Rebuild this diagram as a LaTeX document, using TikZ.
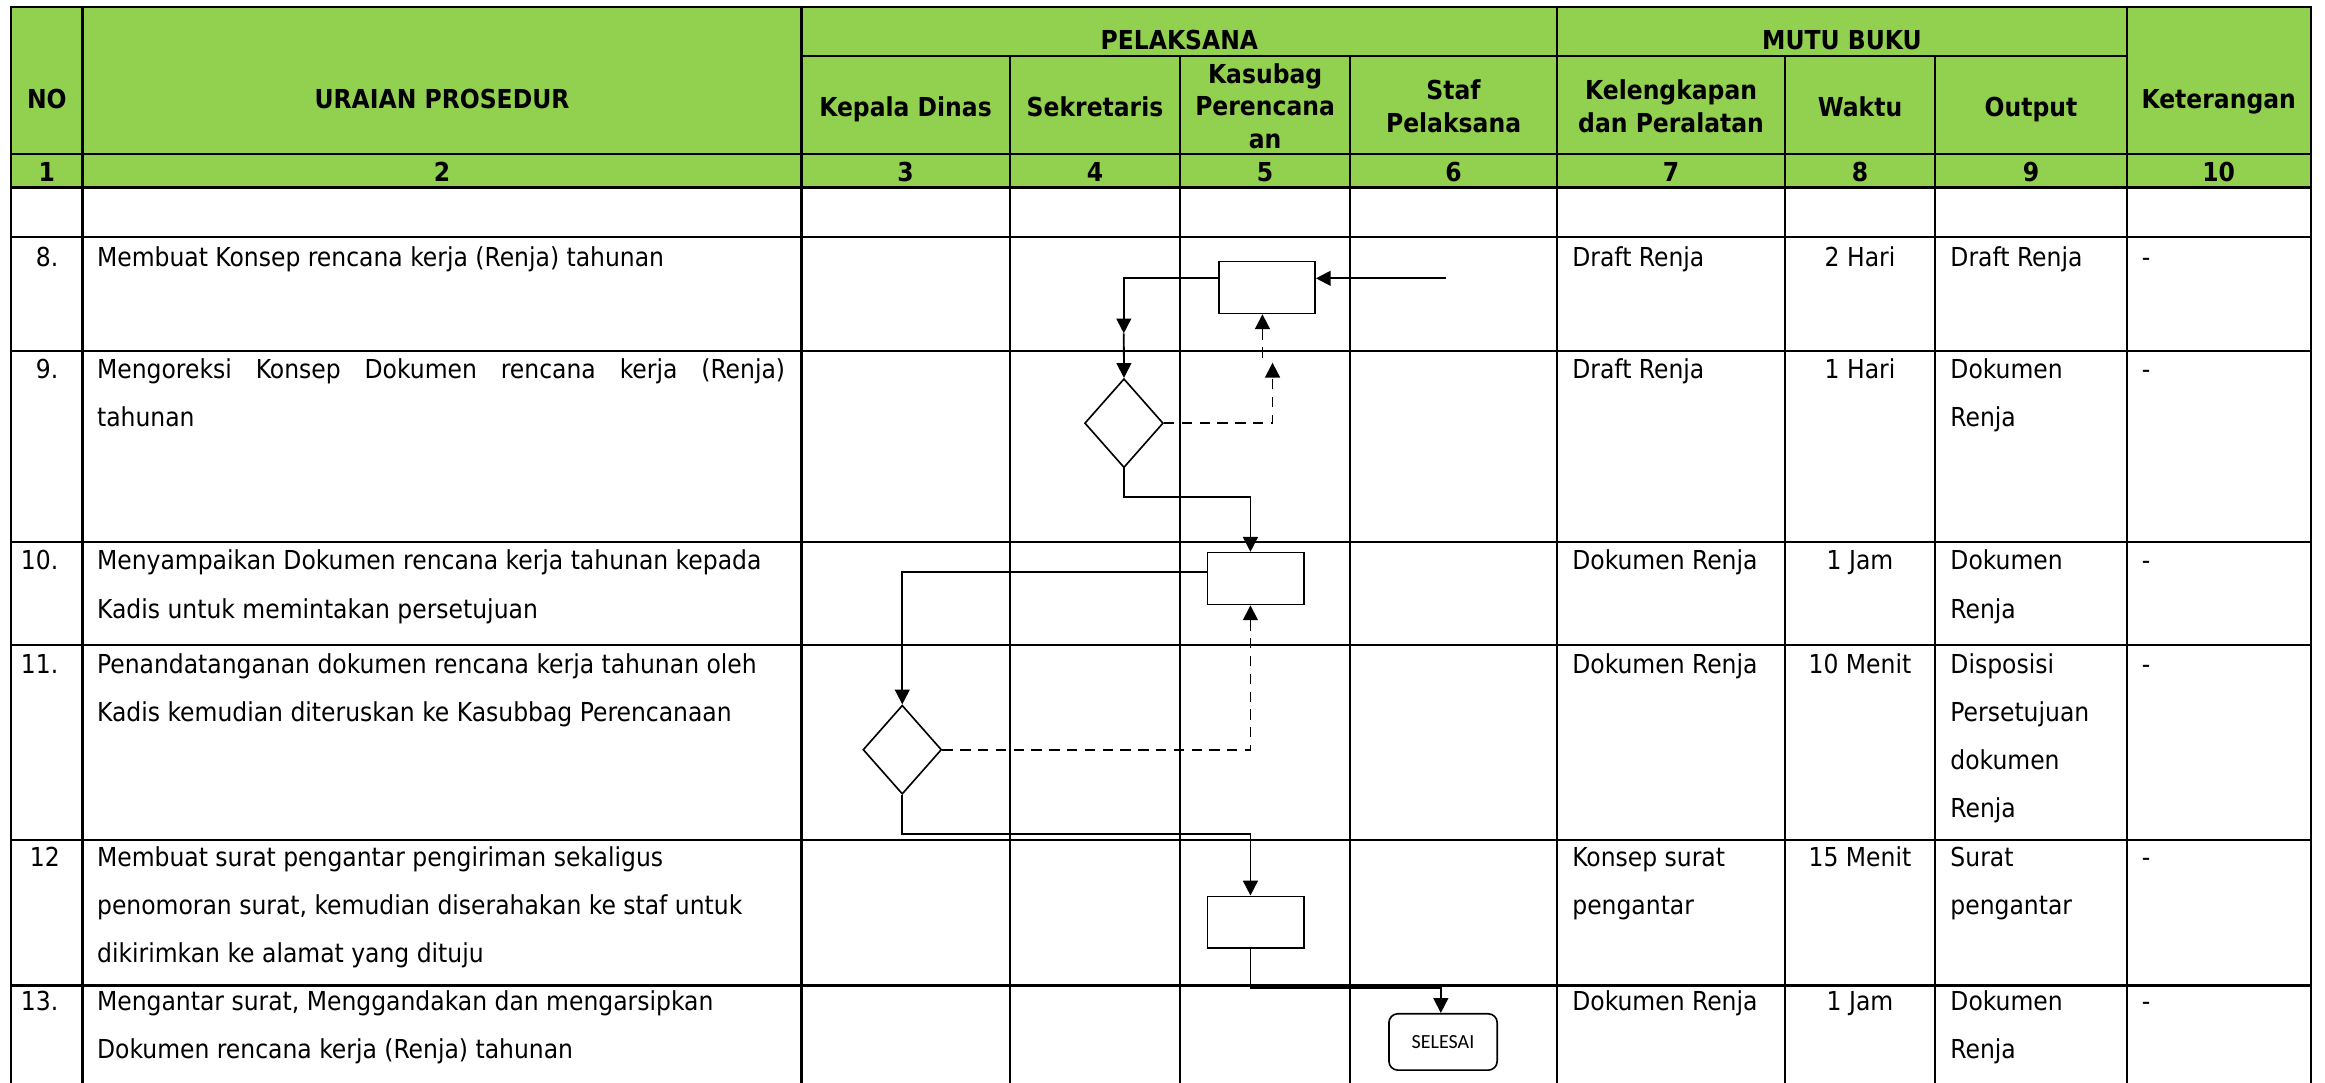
\documentclass[tikz,border=0pt]{standalone}
\usepackage{fontspec}
\setmainfont{DejaVu Sans Condensed}
\newfontfamily\kecil{Carlito}
\usetikzlibrary{arrows.meta,shapes.geometric}
\definecolor{hijau}{HTML}{92D050}

\begin{document}
\begin{tikzpicture}[x=1pt,y=-1pt,
        garis/.style={line width=1.5pt,line cap=rect},
        judul/.style={font=\fontsize{17.6}{22}\selectfont\bfseries,align=center,inner sep=0pt,anchor=base},
        isi/.style={font=\fontsize{17.6}{32.5}\selectfont,align=left,inner sep=0pt,anchor=base west},
        angka/.style={font=\fontsize{17.6}{32.5}\selectfont,inner sep=0pt,anchor=base east},
        tengah/.style={font=\fontsize{17.6}{32.5}\selectfont,inner sep=0pt,anchor=base},
        kotak/.style={draw,line width=1.1pt,minimum width=65pt,minimum height=35pt,inner sep=0pt},
        putusan/.style={draw,diamond,line width=1.1pt,minimum width=53pt,minimum height=60pt,inner sep=0pt},
        alur/.style={line width=1.2pt,-{Triangle[length=10pt,width=10pt]}},
        balik/.style={alur,dash pattern=on 7pt off 5pt}]
                    \useasboundingbox (0,0) rectangle (1568,730);
                    % kepala tabel
                    \fill[hijau] (7.6,4.5) rectangle (1558.5,126.5);
                    \foreach \x in {7.6,55.7,540.5,1050.3,1434.2,1558.5}
                        \draw[garis] (\x,4.5) -- (\x,731);
                    \foreach \x in {681,796,910.3,1203.7,1305.2}
                        \draw[garis] (\x,37.8) -- (\x,731);
                    \draw[garis] (7.6,4.5) -- (1558.5,4.5);
                    \draw[garis] (540.5,37.8) -- (1434.2,37.8);
                    \draw[garis] (7.6,104) -- (1558.5,104);
                    \draw[line width=2.3pt] (7.6,126.5) -- (1558.5,126.5);
                    \foreach \y in {160,236.5,365.4,435,566.4,664.6}
                        \draw[garis] (7.6,\y) -- (1558.5,\y);
                    % (multi-line nodes sit on the baseline of their last line)
                    \node[judul] (hNo) at (31.6,73) {NO};
                    \node[judul] (hUraian) at (298.1,73) {URAIAN PROSEDUR};
                    \node[judul] (hPelaksana) at (795.4,33.7) {PELAKSANA};
                    \node[judul] (hMutu) at (1242.2,33.7) {MUTU BUKU};
                    \node[judul] (hKadis) at (610.7,78.7) {Kepala Dinas};
                    \node[judul] (hSekretaris) at (738.5,78.7) {Sekretaris};
                    \node[judul] (hKasubag) at (853.2,100.2) {Kasubag\\Perencana\\an};
                    \node[judul] (hStaf) at (980.3,89.4) {Staf\\Pelaksana};
                    \node[judul] (hKelengkapan) at (1127,89.4) {Kelengkapan\\dan Peralatan};
                    \node[judul] (hWaktu) at (1254.4,78.7) {Waktu};
                    \node[judul] (hOutput) at (1369.7,78.7) {Output};
                    \node[judul] (hKet) at (1496.3,73) {Keterangan};
                    \foreach \x [count=\i] in {31.6,298.1,610.7,738.5,853.2,980.3,1127,1254.4,1369.7,1496.3}
                        \node[judul] (n\i) at (\x,122.5) {\i};
                    % uraian prosedur
                    \node[angka] (no8) at (39.5,179.4) {8.};
                    \node[isi] (u8) at (65.3,179.4) {Membuat Konsep rencana kerja (Renja) tahunan};
                    \node[angka] (no9) at (39.5,255.1) {9.};
                    \node[isi] (u9) at (65.3,287.6) {\makebox[464pt][s]{Mengoreksi Konsep Dokumen rencana kerja (Renja)}\\tahunan};
                    \node[angka] (no10) at (39.5,384.4) {10.};
                    \node[isi] (u10) at (65.3,416.9) {Menyampaikan Dokumen rencana kerja tahunan kepada\\Kadis untuk memintakan persetujuan};
                    \node[angka] (no11) at (39.5,454) {11.};
                    \node[isi] (u11) at (65.3,486.5) {Penandatanganan dokumen rencana kerja tahunan oleh\\Kadis kemudian diteruskan ke Kasubbag Perencanaan};
                    \node[angka] (no12) at (40.5,584.4) {12};
                    \node[isi] (u12) at (65.3,649.4) {Membuat surat pengantar pengiriman sekaligus\\penomoran surat, kemudian diserahakan ke staf untuk\\dikirimkan ke alamat yang dituju};
                    \node[angka] (no13) at (39.5,681.5) {13.};
                    \node[isi] (u13) at (65.3,714) {Mengantar surat, Menggandakan dan mengarsipkan\\Dokumen rencana kerja (Renja) tahunan};
                    % mutu buku
                    \foreach \y/\yk/\kel/\wkt/\yo/\out [count=\i] in {179.4/179.4/{Draft Renja}/{2 Hari}/179.4/{Draft Renja},
                            255.1/255.1/{Draft Renja}/{1 Hari}/287.6/{Dokumen\\Renja},
                            384.4/384.4/{Dokumen Renja}/{1 Jam}/416.9/{Dokumen\\Renja},
                            454/454/{Dokumen Renja}/{10 Menit}/551.5/{Disposisi\\Persetujuan\\dokumen\\Renja},
                            584.4/616.9/{Konsep surat\\pengantar}/{15 Menit}/616.9/{Surat\\pengantar},
                            681.5/681.5/{Dokumen Renja}/{1 Jam}/714/{Dokumen\\Renja}}
                    {
                        \node[isi] (kel\i) at (1060.2,\yk) {\kel};
                        \node[tengah] (wkt\i) at (1254.4,\y) {\wkt};
                        \node[isi] (out\i) at (1315.2,\yo) {\out};
                        \node[isi] (ket\i) at (1444.2,\y) {-};
                    }
                    % bagan alir
                    \node[kotak] (A) at (854.4,193.9) {};
                    \node[putusan] (D1) at (758,285.4) {};
                    \node[kotak] (B) at (846.8,390.2) {};
                    \node[putusan] (D2) at (608.5,505.6) {};
                    \node[kotak] (C) at (846.8,622) {};
                    \node[draw,rounded corners=6pt,line width=1.1pt,minimum width=73pt,minimum height=38pt,inner sep=0pt,font=\kecil\fontsize{13.5}{16}\selectfont] (S) at (973.2,702.7) {SELESAI};
                    \coordinate (mulai) at (975.5,187.7);
                    \coordinate (k1) at (757.9,224.8);
                    \coordinate (k2) at (858.2,244.6);
                    \coordinate (k3) at (851.4,241.2);
                    \coordinate (k4) at (843.3,335.4);
                    \coordinate (k5) at (608.5,385.9);
                    \coordinate (k6) at (843.3,562.4);
                    \coordinate (k7) at (971.7,666.4);
                    \draw[alur,line width=1.4pt] (mulai) -- (mulai -| A.east);
                    \draw[alur] (mulai -| A.west) -| (k1);
                    \draw[alur] (k1) -- (D1.north);
                    \draw[balik] (D1.east) -| (k2);
                    \draw[balik] (k3) -- (k3 |- A.south);
                    \draw[alur] (D1.south) |- (k4) -- (k4 |- B.north);
                    \draw[alur] (k5 -| B.west) -- (k5) -- (D2.north);
                    \draw[balik] (D2.east) -| (k4 |- B.south);
                    \draw[alur] (D2.south) |- (k6) -- (k6 |- C.north);
                    \draw[alur] (k6 |- C.south) |- (k7) -- (k7 |- S.north);
\end{tikzpicture}
\end{document}
